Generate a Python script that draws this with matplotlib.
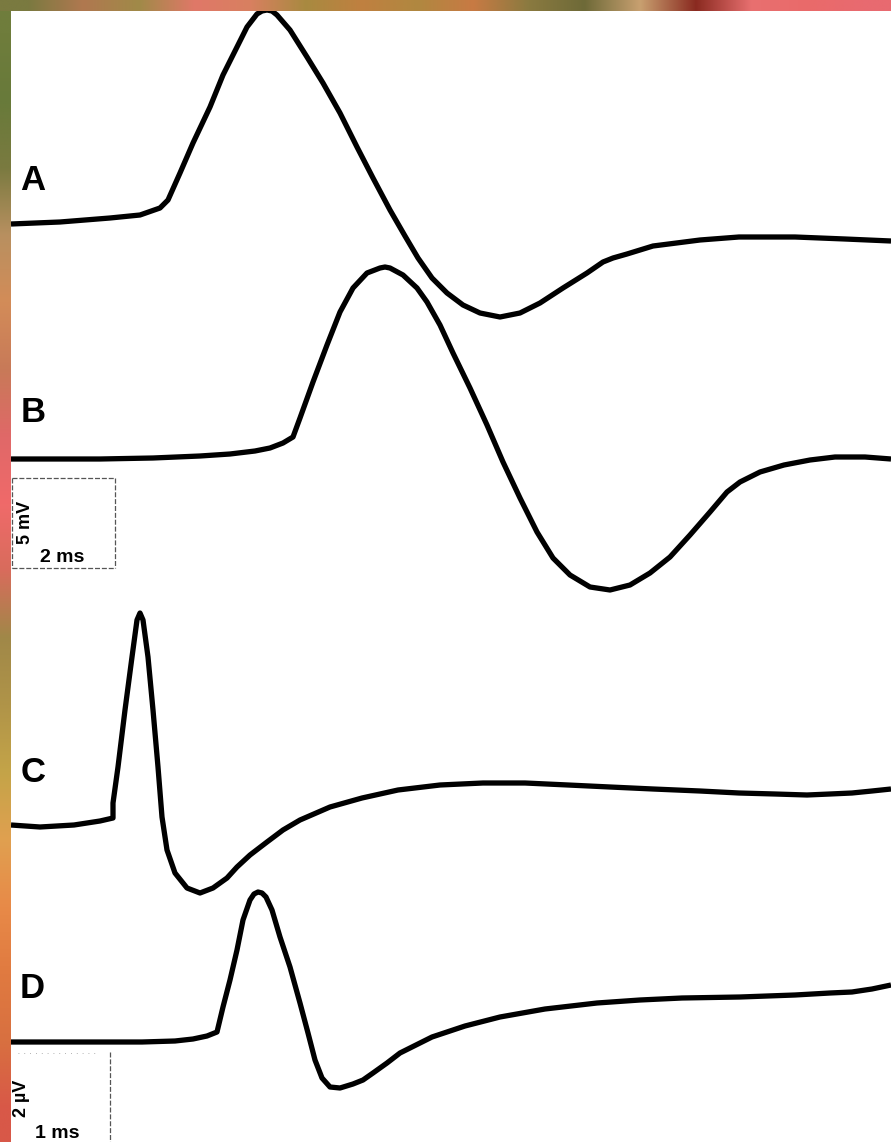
import matplotlib
matplotlib.use("Agg")
import matplotlib.pyplot as plt
import numpy as np

# traces, in page pixel units (x right, y down)
trace_a_x = [11, 60, 110, 140, 160, 168, 180, 193, 210, 223, 237, 247, 257, 262, 267, 272, 277, 290, 307,
             323, 340, 357, 373, 390, 405, 418, 432, 447, 463, 480, 500, 520, 540, 563, 587, 603, 613,
             627, 653, 700, 739, 795, 845, 891]
trace_a_y = [224, 222, 218, 215, 208, 200, 173, 143, 107, 75, 47, 27, 14, 11, 10, 11, 15, 30, 57,
             83, 113, 147, 178, 210, 236, 258, 278, 293, 305, 313, 317, 313, 303, 288, 273, 262, 258,
             254, 246, 240, 237, 237, 239, 241]

trace_b_x = [11, 100, 153, 200, 230, 255, 270, 283, 293, 300, 313, 327, 340, 353, 367, 380, 385, 390, 403,
             417, 427, 440, 453, 470, 487, 503, 520, 537, 553, 570, 590, 610, 630, 650, 670, 690, 710,
             727, 740, 760, 784, 810, 835, 865, 891]
trace_b_y = [459, 459, 458, 456, 454, 451, 448, 443, 437, 418, 382, 345, 312, 288, 273, 268, 267, 268, 275,
             288, 302, 325, 353, 388, 425, 462, 498, 532, 558, 575, 587, 590, 585, 573, 557, 535, 512,
             492, 482, 472, 465, 460, 457, 457, 459]

trace_c_x = [11, 40, 74, 100, 113, 113, 118, 125, 132, 137, 140, 143, 148, 153, 158, 162, 167, 175,
             187, 200, 213, 227, 237, 250, 267, 283, 300, 330, 362, 398, 440, 483, 525, 568, 610, 653,
             700, 739, 775, 807, 830, 852, 872, 891]
trace_c_y = [825, 827, 825, 821, 818, 803, 767, 710, 657, 620, 613, 620, 657, 710, 767, 817, 850, 873,
             888, 893, 888, 878, 867, 855, 842, 830, 820, 807, 798, 790, 785, 783, 783, 785, 787, 789,
             791, 793, 794, 795, 794, 793, 791, 789]

trace_d_x = [11, 80, 142, 175, 193, 207, 217, 223, 230, 237, 243, 250, 254, 258, 262, 266, 272, 280, 290,
             300, 308, 315, 322, 330, 340, 353, 363, 373, 387, 400, 432, 465, 500, 545, 597, 640, 682,
             740, 795, 830, 852, 872, 891]
trace_d_y = [1042, 1042, 1042, 1041, 1039, 1036, 1032, 1007, 980, 950, 920, 900, 894, 892, 893, 897, 910, 937, 967,
             1003, 1033, 1060, 1078, 1087, 1088, 1084, 1080, 1073, 1063, 1053, 1037, 1026, 1017, 1009, 1003, 1000, 998,
             997, 995, 993, 992, 989, 985]

labels = ["A", "B", "C", "D"]
label_x = [33, 33, 33, 32]
label_y = [180, 413, 773, 988]

# colours of the scanned page edge, top to bottom / left to right
left_edge = ["#6f7d3c", "#687a3a", "#7a7a40", "#b89060", "#d38c58", "#c87a58", "#e06868",
             "#f06a6a", "#d86c5c", "#a08848", "#b09448", "#c4a448", "#e0a050", "#e88a48",
             "#e07a40", "#d87040", "#d85848"]
top_edge = ["#7a7a40", "#b07850", "#a08a48", "#e07868", "#d88060", "#a88a40", "#c08040",
            "#b08840", "#c87a44", "#8a7a40", "#6e6a38", "#c8a070", "#8a2a20", "#e87070",
            "#ea6a6a", "#e86a70"]

fig = plt.figure(figsize=(8.91, 11.42), dpi=100)
ax = fig.add_axes([0, 0, 1, 1])
ax.set_xlim(0, 891)
ax.set_ylim(1142, 0)
ax.axis("off")

for xs, ys in [(trace_a_x, trace_a_y), (trace_b_x, trace_b_y),
               (trace_c_x, trace_c_y), (trace_d_x, trace_d_y)]:
    ax.plot(xs, ys, color="black", lw=3.8, solid_joinstyle="round", solid_capstyle="butt", zorder=3)

font = ["Liberation Sans", "DejaVu Sans"]
for lab, lx, ly in zip(labels, label_x, label_y):
    ax.text(lx, ly, lab, fontsize=25, fontweight="bold", ha="center", va="center",
            family=font, zorder=4)

# calibration bars
bar_kw = dict(color="#555555", lw=0.9, ls=(0, (4, 1.5)), zorder=2)
ax.plot([12, 115], [478, 478], **bar_kw)
ax.plot([115, 115], [478, 568], **bar_kw)
ax.plot([12, 115], [568, 568], **bar_kw)
ax.plot([12, 12], [478, 568], **bar_kw)
ax.text(25, 522, "5 mV", rotation=90, fontsize=13, fontweight="bold", ha="center", va="center", family=font)
ax.text(62, 557, "2 ms", fontsize=14, fontweight="bold", ha="center", va="center", family=font)

ax.plot([110, 110], [1052, 1142], **bar_kw)
ax.plot([18, 95], [1053, 1053], color="#999999", lw=0.6, ls=(0, (1, 6)), zorder=2)
ax.text(21, 1098, "2 µV", rotation=90, fontsize=13, fontweight="bold", ha="center", va="center", family=font)
ax.text(57, 1134, "1 ms", fontsize=14, fontweight="bold", ha="center", va="center", family=font)

# coloured page edges
left_rgb = np.array([matplotlib.colors.to_rgb(c) for c in left_edge])[:, None, :]
top_rgb = np.array([matplotlib.colors.to_rgb(c) for c in top_edge])[None, :, :]
ax.imshow(left_rgb, extent=(0, 11, 1142, 0), aspect="auto", interpolation="bilinear", zorder=5)
ax.imshow(top_rgb, extent=(0, 891, 11, 0), aspect="auto", interpolation="bilinear", zorder=5)
ax.set_xlim(0, 891)
ax.set_ylim(1142, 0)

fig.savefig("out.png", dpi=100)
